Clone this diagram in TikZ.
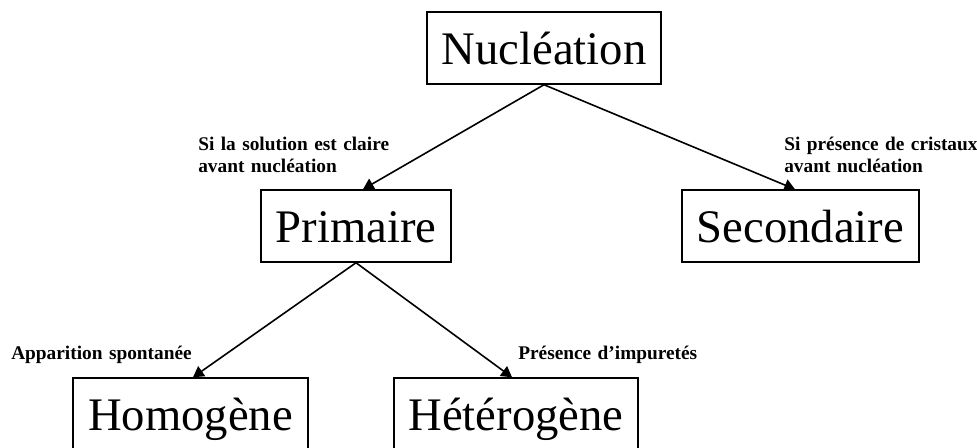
\documentclass[tikz,border=0pt]{standalone}
\usepackage{fontspec}
\setmainfont{Liberation Serif}
\usetikzlibrary{arrows.meta,calc}
\tikzset{
  box/.style={draw, line width=1.1pt, inner sep=0pt, text height=25.2pt, text depth=0pt,
    font=\fontsize{35}{42}\selectfont, minimum height=54pt},
  lbl/.style={anchor=base west, inner sep=0pt, align=left, text width=160pt,
    font=\fontsize{14.5}{16.5}\selectfont\bfseries},
  arr/.style={line width=1.2pt, -{Triangle[length=8pt,width=9pt]}}
}
\begin{document}
\begin{tikzpicture}[x=0.75pt,y=-0.75pt]
\useasboundingbox (0,0) rectangle (977,447);
\clip (0,0) rectangle (977,447);
\node[box, minimum width=175.5pt] (nuc) at (544,48) {Nucléation};
\node[box, minimum width=142.5pt] (prim) at (356,226) {Primaire};
\node[box, minimum width=177.75pt] (sec) at (800.5,226) {Secondaire};
\node[box, minimum width=176.25pt] (hom) at (190.5,414) {Homogène};
\node[box, minimum width=183pt] (het) at (516,414) {Hétérogène};
\node[lbl] (l1) at (198,150) {Si la solution est claire\\avant nucléation};
\node[lbl] (l2) at (784,150) {Si présence de cristaux\\avant nucléation};
\node[lbl] (l3) at (11,359) {Apparition spontanée};
\node[lbl] (l4) at (518,359) {Présence d’impuretés};
\draw[arr] (nuc.south) -- ($(prim.north)+(7,0)$);
\draw[arr] (nuc.south) -- ($(sec.north)+(-5.5,0)$);
\draw[arr] (prim.south) -- ($(hom.north)+(2.5,0)$);
\draw[arr] (prim.south) -- ($(het.north)+(-4,0)$);
\end{tikzpicture}
\end{document}
